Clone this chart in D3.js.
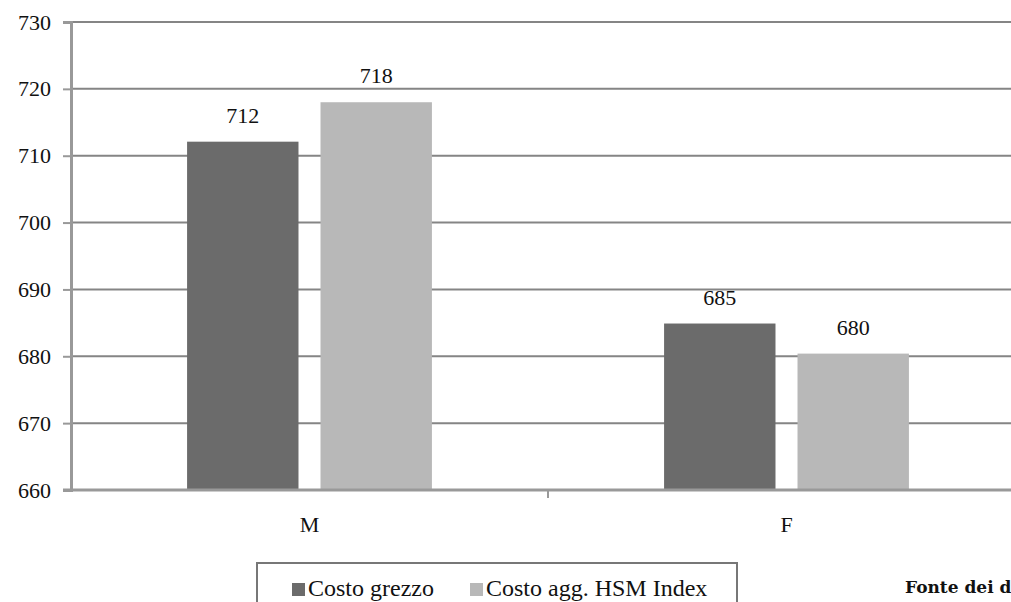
<html>
<head>
    <script src="https://cdnjs.cloudflare.com/ajax/libs/d3/7.8.5/d3.min.js"></script>
    <style>
        body { margin: 0; background: #fff; }
        svg text { font-family: "Liberation Serif", "Times New Roman", serif; fill: #111; }
    </style>
</head>
<body>
    <script>
        var categories = ['M', 'F'];
        var seriesNames = ['Costo grezzo', 'Costo agg. HSM Index'];
        var costoGrezzo = [712.1, 684.9];
        var costoAgg = [718.0, 680.4];
        var yTicks = [660, 670, 680, 690, 700, 710, 720, 730];

        var w = 1011, h = 602;
        var mLeft = 71, mTop = 22, mBottom = 490, mRight = 1025;
        var colors = ['#6b6b6b', '#b8b8b8'];

        var svg = d3.select('body')
            .append('svg')
            .attr('width', w)
            .attr('height', h);

        var y = d3.scaleLinear()
            .domain([660, 730])
            .range([mBottom, mTop]);

        var x0 = d3.scaleBand()
            .domain(categories)
            .range([mLeft, mRight]);

        var x1 = d3.scaleBand()
            .domain(seriesNames)
            .range([0, x0.bandwidth()])
            .paddingInner(0.165)
            .paddingOuter(0.87);

        // gridlines
        svg.append('g')
            .selectAll('line')
            .data(yTicks.slice(1))
            .enter()
            .append('line')
            .attr('x1', mLeft)
            .attr('x2', w)
            .attr('y1', d => y(d))
            .attr('y2', d => y(d))
            .attr('stroke', '#858585')
            .attr('stroke-width', 2);

        var data = categories.map((c, i) => {
            return { cat: c, values: [costoGrezzo[i], costoAgg[i]] };
        });

        var groups = svg.selectAll('.grp')
            .data(data)
            .enter()
            .append('g')
            .attr('transform', d => 'translate(' + x0(d.cat) + ',0)');

        groups.selectAll('rect')
            .data(d => d.values.map((v, i) => ({ s: seriesNames[i], v: v, i: i })))
            .enter()
            .append('rect')
            .attr('x', d => x1(d.s))
            .attr('width', x1.bandwidth())
            .attr('y', d => y(d.v))
            .attr('height', d => y(660) - y(d.v))
            .attr('fill', d => colors[d.i]);

        groups.selectAll('text')
            .data(d => d.values.map((v, i) => ({ s: seriesNames[i], v: v })))
            .enter()
            .append('text')
            .attr('x', d => x1(d.s) + x1.bandwidth() / 2)
            .attr('y', d => y(d.v) - 19)
            .attr('text-anchor', 'middle')
            .style('font-size', '22px')
            .text(d => d3.format('.0f')(d.v));

        // y axis
        var yAxis = d3.axisLeft(y)
            .tickValues(yTicks)
            .tickSize(8)
            .tickPadding(12);

        var gy = svg.append('g')
            .attr('transform', 'translate(' + mLeft + ',0)')
            .call(yAxis);
        gy.select('.domain').attr('stroke', '#999').attr('stroke-width', 3);
        gy.selectAll('.tick line').attr('stroke', '#999').attr('stroke-width', 2);
        gy.selectAll('.tick text')
            .style('font-size', '22px')
            .style('font-family', '"Liberation Serif", serif')
            .attr('fill', '#111');

        // x axis
        var gx = svg.append('g')
            .attr('transform', 'translate(0,' + mBottom + ')');
        gx.append('line')
            .attr('x1', mLeft - 8).attr('x2', w)
            .attr('y1', 0).attr('y2', 0)
            .attr('stroke', '#999').attr('stroke-width', 3);
        gx.selectAll('.sep')
            .data(categories.slice(1))
            .enter()
            .append('line')
            .attr('x1', d => x0(d)).attr('x2', d => x0(d))
            .attr('y1', 0).attr('y2', 8)
            .attr('stroke', '#999').attr('stroke-width', 2);
        gx.selectAll('text')
            .data(categories)
            .enter()
            .append('text')
            .attr('x', d => x0(d) + x0.bandwidth() / 2)
            .attr('y', 42)
            .attr('text-anchor', 'middle')
            .style('font-size', '22px')
            .text(d => d);

        // legend
        var lg = svg.append('g');
        lg.append('rect')
            .attr('x', 257).attr('y', 563)
            .attr('width', 480).attr('height', 60)
            .attr('fill', 'none')
            .attr('stroke', '#777')
            .attr('stroke-width', 2);
        var legX = [292, 470];
        seriesNames.forEach((s, i) => {
            lg.append('rect')
                .attr('x', legX[i]).attr('y', 583)
                .attr('width', 13).attr('height', 13)
                .attr('fill', colors[i]);
            lg.append('text')
                .attr('x', legX[i] + 16).attr('y', 596)
                .style('font-size', '24px')
                .text(s);
        });

        svg.append('text')
            .attr('x', 905)
            .attr('y', 593)
            .style('font-family', '"DejaVu Serif", serif')
            .style('font-weight', 'bold')
            .style('font-size', '17px')
            .text('Fonte dei dati');
    </script>
</body>
</html>
